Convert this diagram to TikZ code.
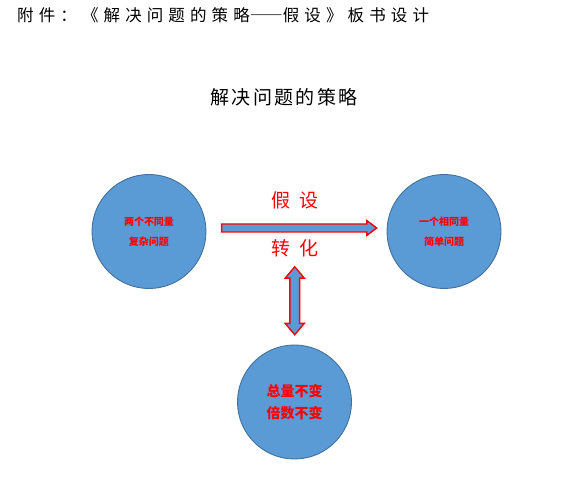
\documentclass[tikz,border=0pt]{standalone}
\usepackage{fontspec}
\usepackage{xcolor}
\usepackage{tikz}
\usetikzlibrary{positioning, shapes.arrows, calc}
\setmainfont{Noto Sans CJK SC}
\newfontfamily\cjk{Noto Sans CJK SC}
\newfontfamily\cjkwide[LetterSpace=31]{Noto Sans CJK SC}
\newfontfamily\cjkmid[LetterSpace=12]{Noto Sans CJK SC}
\definecolor{BoardBlue}{HTML}{5B9BD5}
\definecolor{BoardEdge}{HTML}{41719C}
\colorlet{BoardRed}{red}
\newcommand{\px}[1]{\fontsize{#1}{#1}\selectfont}
\newcommand{\fulldash}{{\addfontfeatures{CharacterWidth=Full}——}}

\begin{document}
\begin{tikzpicture}[x=1pt, y=-1pt,
    ball/.style={circle, fill=BoardBlue, draw=BoardEdge, line width=0.9pt, minimum size=114pt, inner sep=0pt, align=center, text=BoardRed},
    fatarrow/.style={fill=BoardBlue, draw=BoardRed, line width=1.4pt, inner xsep=0pt},
    redword/.style={text=BoardRed, inner sep=0pt, font=\cjk\px{19}}]
        \useasboundingbox (0,0) rectangle (582,478);
        % headings
        \node[anchor=west, inner sep=0pt, font=\cjkwide\px{16.5}] (title) at (17,15) {附件：《解决问题的策略\fulldash 假设》板书设计};
        \node[inner sep=0pt, font=\cjkmid\px{19}] (subtitle) at (284,97.5) {解决问题的策略};
        % three circles
        \node[ball, font=\cjk\bfseries\fontsize{10}{20}\selectfont] (twoq) at (149,231.5) {两个不同量\\复杂问题};
        \node[ball, font=\cjk\bfseries\fontsize{10}{20}\selectfont] (oneq) at (444,231.5) {一个相同量\\简单问题};
        \node[ball, font=\cjk\bfseries\fontsize{14}{22}\selectfont] (mix) at (294.5,402) {总量不变\\倍数不变};
        % labels and arrows
        \node[redword] (assume) at (295,200) {假\hspace{9pt}设};
        \node[redword] (turn) at (295,248) {转\hspace{9pt}化};
        \node[fatarrow, single arrow, inner ysep=3.3pt, single arrow head extend=3.4pt,
              single arrow tip angle=74, minimum height=155pt] (shift)
              at ([yshift=3.5pt]$(twoq.east)!0.5!(oneq.west)$) {};
        \node[fatarrow, double arrow, rotate=90, inner ysep=4.2pt, double arrow head extend=4.6pt,
              double arrow tip angle=80, minimum height=68pt] (link)
              at ($(turn.south)!0.5!(mix.north)$) {};
      \end{tikzpicture}
\end{document}
